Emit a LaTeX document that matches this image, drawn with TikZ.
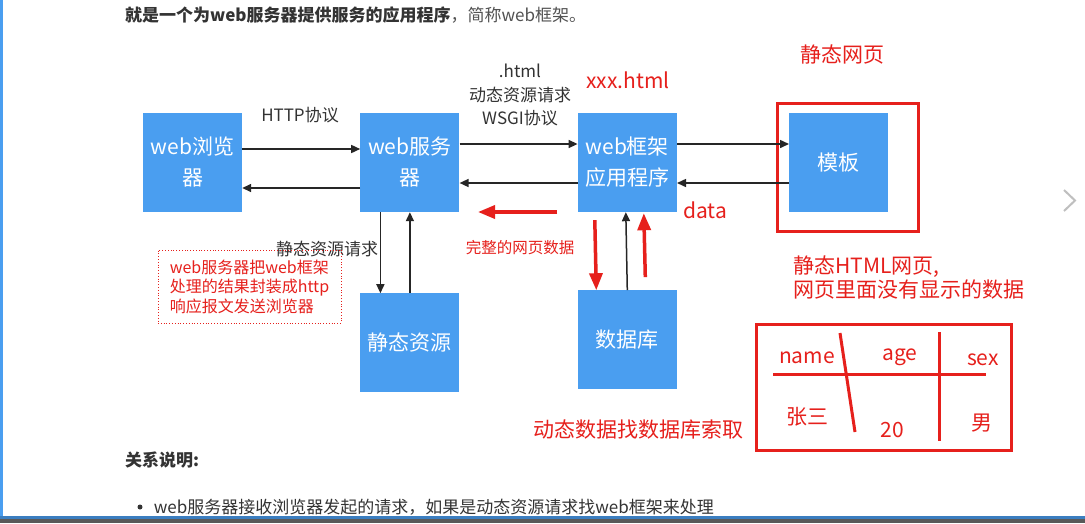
\documentclass[tikz,border=0pt]{standalone}
\usepackage{fontspec}
\setmainfont{Noto Sans CJK SC}
\usetikzlibrary{positioning,arrows.meta}

\definecolor{boxblue}{RGB}{74,158,240}
\definecolor{markred}{RGB}{230,32,28}
\definecolor{textgray}{RGB}{51,51,51}

\tikzset{
  blockbox/.style={fill=boxblue, text=white, minimum width=99pt, minimum height=99pt, inner sep=0pt, align=center, font=\fontsize{21}{31}\selectfont},
  flow/.style={draw=black!85, line width=1.5pt, -{Triangle[length=9pt,width=8pt]}},
  redflow/.style={draw=markred, line width=3.5pt, -{Triangle[length=17pt,width=13pt]}},
  graylabel/.style={text=textgray, font=\fontsize{17}{23.5}\selectfont, align=center, inner sep=0pt},
  redlabel/.style={text=markred, font=\fontsize{21}{24}\selectfont, inner sep=0pt},
  redframe/.style={draw=markred, line width=3pt},
}

\begin{document}
\begin{tikzpicture}[x=1pt, y=-1pt]

        \fill[white] (0,0) rectangle (1085,523);
        \useasboundingbox (0,0) rectangle (1085,523);

        % Page edges
        \fill[boxblue] (0,0) rectangle (2.5,517);
        \fill[boxblue!80!black] (0,516) rectangle (1085,518.5);
        \fill[black!65] (0,518.5) rectangle (1085,523);
        \draw[black!25, line width=2pt] (1064,190) -- (1075,200.5) -- (1064,211);

        % Intro text
        \node[anchor=west, text=textgray, inner sep=0pt, font=\fontsize{17}{20}\selectfont] (intro) at (125,15) {\textbf{就是一个为web服务器提供服务的应用程序}{\color{textgray!85}，简称web框架。}};

        % Main blocks
        \node[blockbox] (browser) at (192.5,162.5) {web浏览\\器};
        \node[blockbox, right=118pt of browser] (server) {web服务\\器};
        \node[blockbox, right=118pt of server] (framework) {web框架\\应用程序};
        \node[blockbox, right=112pt of framework] (template) {模板};
        \node[blockbox, below=81pt of server] (static) {静态资源};
        \node[blockbox, below=78pt of framework] (database) {数据库};

        % Frame round the template
        \node[redframe, minimum width=141pt, minimum height=128pt] (staticpage) at (847.5,167) {};

        % Labels
        \node[graylabel] (httplabel) at (300,115) {HTTP协议};
        \node[graylabel] (wsgilabel) at (520,95) {.html\\动态资源请求\\WSGI协议};
        \node[graylabel] (staticreq) at (327,249) {静态资源请求};
        \node[redlabel] (xxxhtml) at (628,80) {xxx.html};
        \node[redlabel] (datalabel) at (705,210) {data};
        \node[redlabel, font=\fontsize{15.5}{18}\selectfont] (fullpage) at (520,248) {完整的网页数据};
        \node[redlabel] (statictitle) at (842,55) {静态网页};
        \node[redlabel, anchor=north west, align=left] (htmlnote) at (793,256) {静态HTML网页,\\网页里面没有显示的数据};
        \node[redlabel] (dbnote) at (638,430) {动态数据找数据库索取};
        \node[draw=markred, dotted, line width=0.8pt, minimum width=183pt, minimum height=73pt, inner sep=0pt, align=left, text=markred, font=\fontsize{16}{19.5}\selectfont] (wrapnote) at (249.5,286.5) {web服务器把web框架\\处理的结果封装成http\\响应报文发送浏览器};

        % Connections
        \draw[flow] ([yshift=13.5pt]browser.east) -- ([yshift=13.5pt]server.west);
        \draw[flow] ([yshift=-25.5pt]server.west) -- ([yshift=-25.5pt]browser.east);
        \draw[flow] ([yshift=18.5pt]server.east) -- ([yshift=18.5pt]framework.west);
        \draw[flow] ([yshift=-20.5pt]framework.west) -- ([yshift=-20.5pt]server.east);
        \draw[flow] ([yshift=18.5pt]framework.east) -- ([yshift=18.5pt]template.west);
        \draw[flow] ([yshift=-20.5pt]template.west) -- ([yshift=-20.5pt]framework.east);
        \draw[flow] ([xshift=-29.5pt]server.south) -- ([xshift=-29.5pt]static.north);
        \draw[flow] (static.north) -- (server.south);
        \draw[flow] (database.north) -- ([xshift=-1.5pt]framework.south);

        % Red marks
        \coordinate (backstart) at (557,212);
        \coordinate (backend) at (478,212);
        \draw[redflow] (backstart) -- (backend);
        \draw[redflow] ([xshift=-32.5pt,yshift=-8pt]framework.south) -- ([xshift=-31pt]database.north);
        \draw[redflow] ([xshift=18pt,yshift=13pt]database.north) -- ([xshift=16.5pt,yshift=-1pt]framework.south);

        % Table sketch
        \draw[redframe] (756,324) rectangle (1011,450);
        \draw[redframe] (773,374) -- (986,374);
        \draw[redframe] (840,333) -- (855,432);
        \draw[redframe] (939,332) -- (939,441);
        \node[redlabel] (colname) at (807,358) {name};
        \node[redlabel] (colage) at (900,357) {age};
        \node[redlabel] (colsex) at (983,360) {sex};
        \node[redlabel] (valname) at (807,417) {张三};
        \node[redlabel] (valage) at (892,430) {20};
        \node[redlabel] (valsex) at (982,423) {男};

        % Notes below
        \node[anchor=west, text=textgray, inner sep=0pt, font=\bfseries\fontsize{17}{20}\selectfont] (relhead) at (125,460) {关系说明:};
        \node[circle, fill=textgray, inner sep=0pt, minimum size=5pt] (bulletdot) at (140,507) {};
        \node[anchor=west, text=textgray, inner sep=0pt, font=\fontsize{17}{20}\selectfont, right=11pt of bulletdot] (relitem) {web服务器接收浏览器发起的请求，如果是动态资源请求找web框架来处理};

    \end{tikzpicture}
\end{document}
